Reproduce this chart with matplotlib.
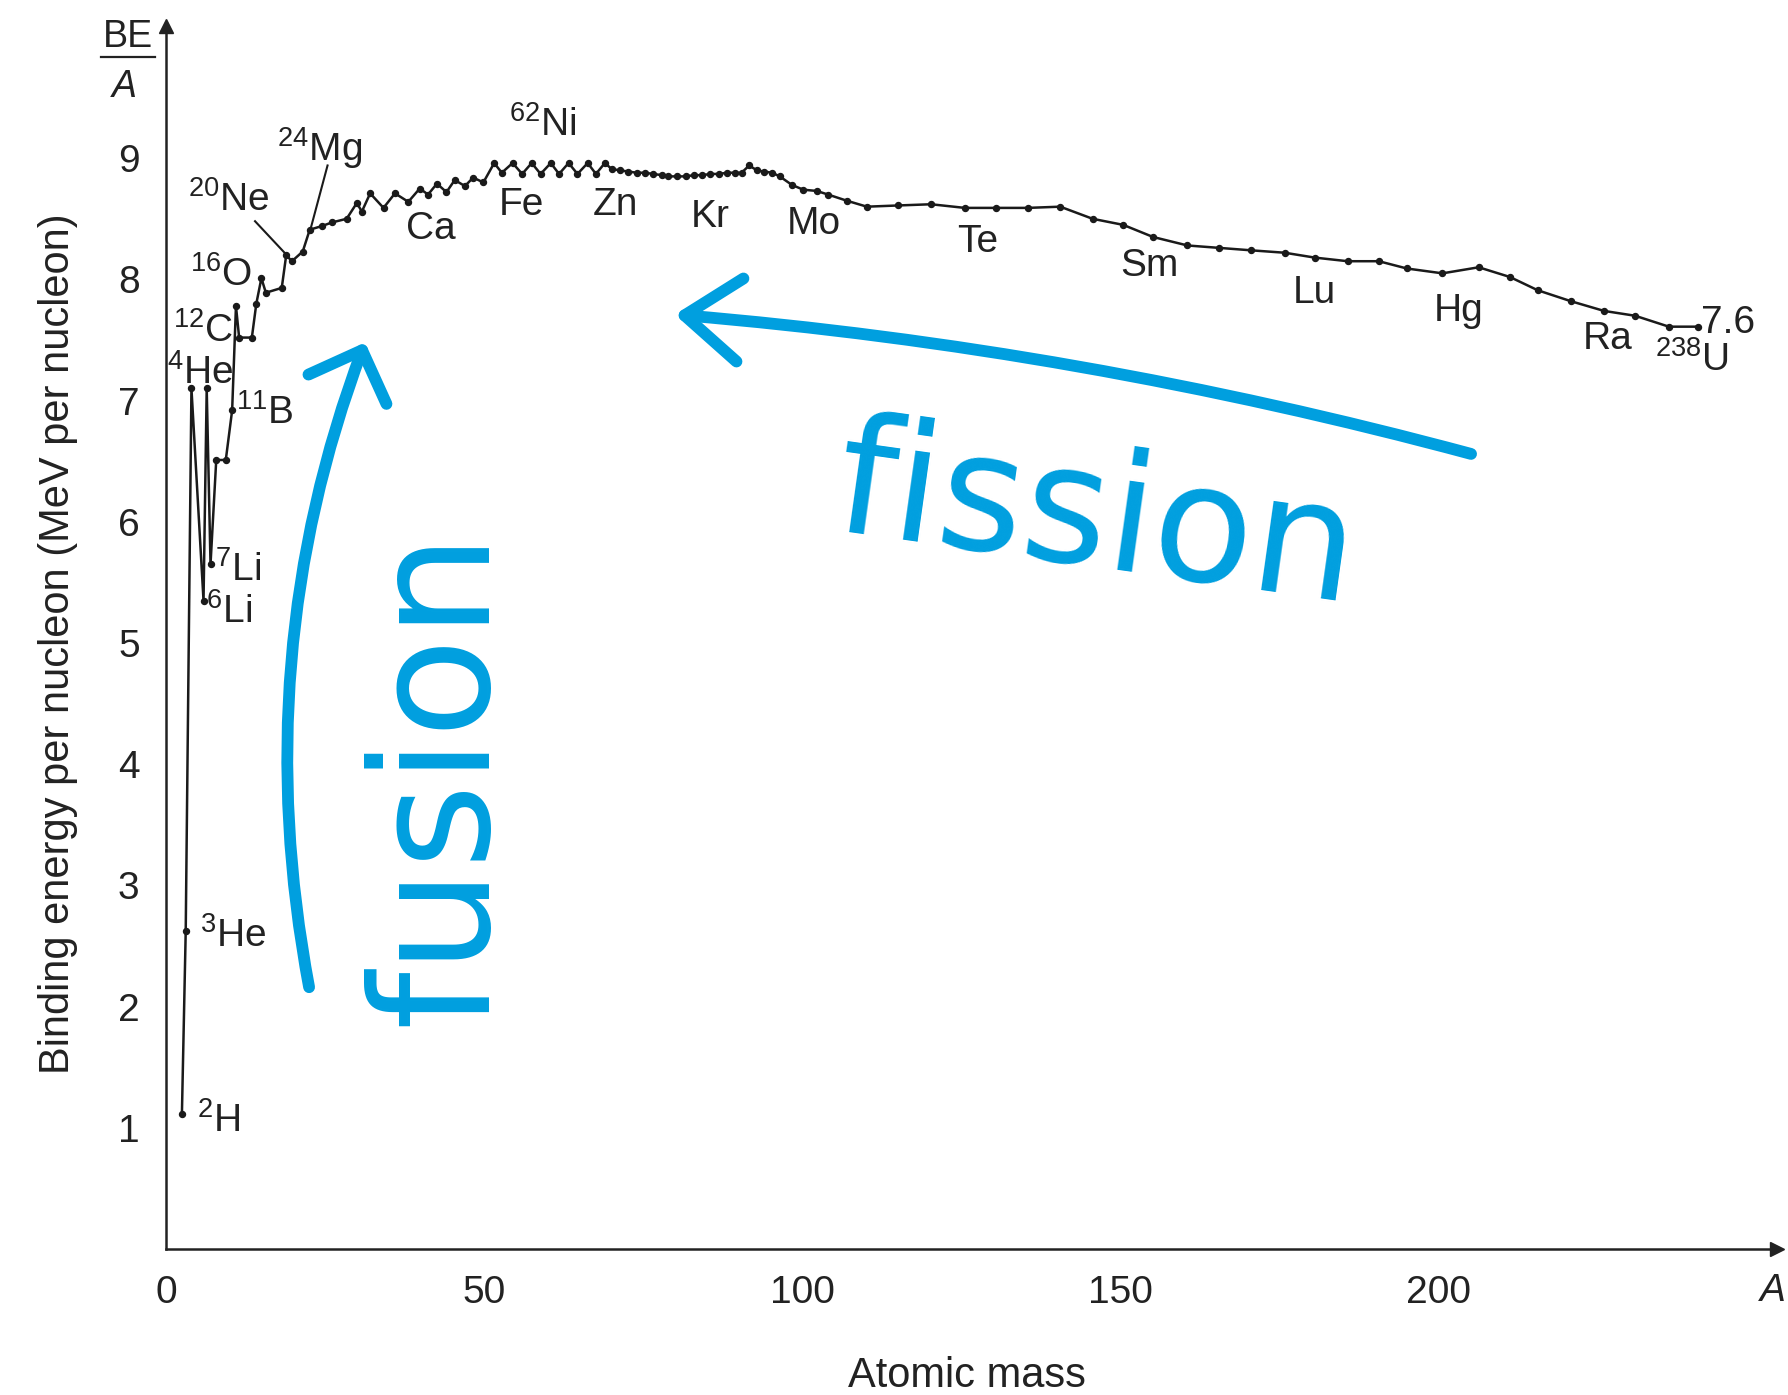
import matplotlib
matplotlib.use('Agg')
import matplotlib.pyplot as plt
from matplotlib.patches import FancyArrowPatch, ArrowStyle
from matplotlib.lines import Line2D

plt.rcParams['font.family'] = ['Liberation Sans', 'DejaVu Sans']
plt.rcParams['mathtext.fontset'] = 'custom'
plt.rcParams['mathtext.rm'] = 'Liberation Sans'
plt.rcParams['mathtext.it'] = 'Liberation Sans:italic'
plt.rcParams['mathtext.bf'] = 'Liberation Sans:bold'

# binding energy curve (path order as drawn)
mass = [2.5, 3.1, 4.0, 5.9, 6.4, 7.0, 7.9, 9.4, 10.4, 11.0, 11.5, 13.5, 14.2, 15.0,
        15.7, 18.2, 18.9, 19.8, 21.5, 22.6, 24.5, 26.1, 28.4,
        30.0, 30.8, 32.1, 34.2, 36.0, 38.1, 39.9, 41.2, 42.6, 44.1, 45.4, 47.0,
        48.3, 49.9, 51.6, 52.8, 54.5, 56.0, 57.5, 58.9, 60.5, 61.8, 63.3, 64.7,
        66.3, 67.6, 69.0,
        70.1, 71.4, 72.7, 74.0, 75.3, 76.6, 78.0, 79.0, 80.3, 81.7, 83.0, 84.3,
        85.6, 86.9, 88.2, 89.5, 90.5, 91.7, 92.9, 94.0, 95.3, 96.5, 98.4, 100.2,
        102.3, 104.1, 107.0, 110.2,
        115.1, 120.3, 125.6, 130.5, 135.5, 140.6, 145.7, 150.5, 155.2, 160.6,
        165.6, 170.6, 175.9, 180.6, 185.8, 190.7, 195.1, 200.7, 206.4, 211.3,
        215.7, 220.9, 226.1, 231.0, 236.3, 240.9]
be_per_a = [1.11, 2.62, 7.10, 5.35, 7.10, 5.65, 6.51, 6.51, 6.92, 7.78, 7.52, 7.52, 7.80, 8.01,
            7.89, 7.93, 8.20, 8.15, 8.23, 8.41, 8.44, 8.47, 8.50,
            8.63, 8.56, 8.71, 8.59, 8.71, 8.64, 8.75, 8.70, 8.79, 8.72, 8.82, 8.77,
            8.84, 8.80, 8.96, 8.88, 8.96, 8.87, 8.96, 8.87, 8.96, 8.87, 8.96, 8.87,
            8.96, 8.87, 8.96,
            8.91, 8.90, 8.89, 8.88, 8.88, 8.87, 8.86, 8.85, 8.85, 8.85, 8.86, 8.86,
            8.87, 8.87, 8.88, 8.88, 8.88, 8.94, 8.90, 8.89, 8.88, 8.85, 8.78, 8.74,
            8.73, 8.70, 8.65, 8.60,
            8.61, 8.62, 8.59, 8.59, 8.59, 8.60, 8.50, 8.45, 8.35, 8.28,
            8.26, 8.24, 8.22, 8.18, 8.15, 8.15, 8.09, 8.05, 8.10, 8.02,
            7.91, 7.82, 7.74, 7.70, 7.61, 7.61]

x_ticks = [0, 50, 100, 150, 200]
y_ticks = [1, 2, 3, 4, 5, 6, 7, 8, 9]

# nuclide / element labels: text, A, BE/A (centre of the capitals)
label_text = [r'$^{2}$H', r'$^{3}$He', r'$^{6}$Li', r'$^{7}$Li', r'$^{11}$B', r'$^{4}$He',
              r'$^{12}$C', r'$^{16}$O', r'$^{20}$Ne', r'$^{24}$Mg', r'$^{62}$Ni',
              'Ca', 'Fe', 'Zn', 'Kr', 'Mo', 'Te', 'Sm', 'Lu', 'Hg', 'Ra',
              r'$^{238}$U', '7.6']
label_a = [8.3, 10.6, 9.9, 11.3, 15.6, 5.4, 5.9, 8.6, 9.8, 24.2, 59.2,
           41.7, 55.9, 70.7, 85.5, 101.9, 127.7, 154.6, 180.5, 203.2, 226.7,
           240.0, 245.6]
label_be = [1.08, 2.61, 5.28, 5.63, 6.92, 7.25, 7.60, 8.06, 8.68, 9.09, 9.30,
            8.45, 8.65, 8.65, 8.55, 8.49, 8.34, 8.14, 7.92, 7.77, 7.54,
            7.36, 7.67]

# leader lines for Ne and Mg
ne_line = ([14.0, 19.0], [8.48, 8.20])
mg_line = ([25.4, 22.75], [8.94, 8.42])

blue = '#009FDF'
ink = '#222222'

fig = plt.figure(figsize=(17.88, 13.95), dpi=100)
W, H = 1788, 1395
ax = fig.add_axes([166 / W, 1 - 1249 / H, (1777 - 166) / W, (1249 - 26) / H])
ax.set_xlim(0, (1777 - 166) / 6.36)
ax.set_ylim(0, (1249 - 26) / 121.2)

for s in ['top', 'right']:
    ax.spines[s].set_visible(False)
for s in ['left', 'bottom']:
    ax.spines[s].set_linewidth(1.8)
    ax.spines[s].set_color(ink)
ax.plot(1, 0, '>', color=ink, ms=10, transform=ax.transAxes, clip_on=False)
ax.plot(0, 1, '^', color=ink, ms=10, transform=ax.transAxes, clip_on=False)

ax.set_xticks(x_ticks)
ax.set_yticks(y_ticks)
ax.tick_params(axis='x', length=0, pad=19, labelsize=28, labelcolor=ink)
ax.tick_params(axis='y', length=0, pad=19, labelsize=28, labelcolor=ink)

ax.plot(mass, be_per_a, '-o', color='#1a1a1a', lw=1.8, ms=4.3, clip_on=False)
ax.plot(*ne_line, color='#1a1a1a', lw=1.5)
ax.plot(*mg_line, color='#1a1a1a', lw=1.5)

# cap height 28px is ~0.23 units, so baseline sits 0.115 below the centre
for t, a, b in zip(label_text, label_a, label_be):
    ax.text(a, b - 0.115, t, fontsize=28, ha='center', va='baseline', color=ink)

# axis titles
fig.text(58 / W, 1 - 644 / H, 'Binding energy per nucleon (MeV per nucleon)',
         rotation=90, ha='center', va='center', fontsize=30, color=ink)
fig.text(967 / W, 1 - 1387 / H, 'Atomic mass', ha='center', va='baseline',
         fontsize=30, color=ink)
fig.text(1773 / W, 1 - 1291 / H, 'A', ha='center', va='center', fontsize=28,
         style='italic', color=ink)
fig.text(128 / W, 1 - 47 / H, 'BE', ha='center', va='baseline', fontsize=27,
         color=ink)
fig.add_artist(Line2D([101 / W, 155 / W], [1 - 57 / H, 1 - 57 / H], color=ink,
                      lw=1.6, transform=fig.transFigure))
fig.text(124 / W, 1 - 97 / H, 'A', ha='center', va='baseline', fontsize=27,
         style='italic', color=ink)

# hand-drawn fusion / fission notes
ax.text(43.2, 3.89, 'fusion', rotation=90, ha='center', va='center', fontsize=118,
        color=blue, family='DejaVu Sans')
ax.text(146.2, 6.0, 'fission', rotation=-8, ha='center', va='center', fontsize=118,
        color=blue, family='DejaVu Sans')

fus = FancyArrowPatch((22.5, 2.16), (31.3, 7.48), connectionstyle='arc3,rad=-0.14',
                      arrowstyle=ArrowStyle('->', head_length=3.0, head_width=3.0),
                      mutation_scale=10, lw=8.5, color=blue, shrinkA=0, shrinkB=0,
                      capstyle='round', joinstyle='round')
fis = FancyArrowPatch((205.2, 6.56), (80.0, 7.71), connectionstyle='arc3,rad=0.045',
                      arrowstyle=ArrowStyle('->', head_length=4.0, head_width=3.0),
                      mutation_scale=10, lw=8.5, color=blue, shrinkA=0, shrinkB=0,
                      capstyle='round', joinstyle='round')
ax.add_patch(fus)
ax.add_patch(fis)

fig.savefig('out.png', dpi=100)
